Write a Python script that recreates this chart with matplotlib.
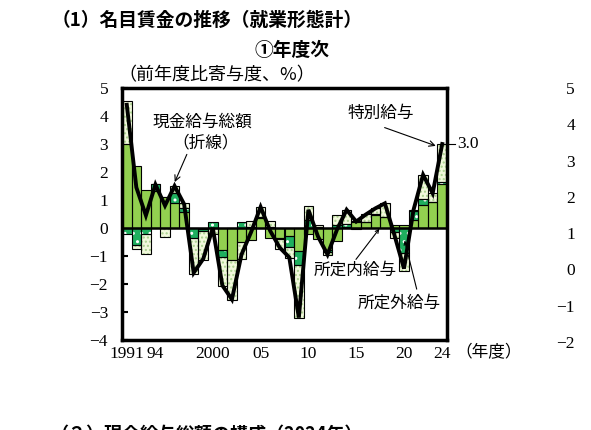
import numpy as np
import matplotlib.pyplot as plt

plt.rcParams['font.family'] = ['Noto Sans CJK JP', 'DejaVu Sans']
plt.rcParams['hatch.linewidth'] = 1.0

# fiscal years and contributions (前年度比寄与度, %)
years = np.arange(1991, 2025)
shoteinai = [3.0, 2.2, 1.36, 1.33, 1.1, 0.88, 0.58, 0.0, -0.05, 0.0,
             -0.78, -1.13, -0.5, -0.42, 0.35, -0.35, -0.37, -0.3, -0.83, -0.2,
             -0.4, -0.8, -0.45, 0.05, 0.2, 0.2, 0.45, 0.38, 0.1, 0.1,
             0.3, 0.82, 0.92, 1.56]
shoteigai = [-0.2, -0.6, -0.2, 0.23, 0.0, 0.36, 0.15, -0.35, -0.05, 0.2,
             -0.25, 0.0, 0.2, 0.05, 0.05, 0.05, -0.03, -0.37, -0.5, 0.3,
             0.05, -0.05, 0.1, 0.1, -0.02, 0.0, 0.05, 0.0, -0.15, -0.9,
             0.3, 0.22, 0.02, 0.1]
tokubetsu = [1.55, -0.15, -0.72, 0.0, -0.32, 0.25, 0.15, -1.3, -1.05, -0.2,
             -1.05, -1.45, -0.6, 0.2, 0.35, 0.2, -0.35, -0.4, -1.9, 0.5,
             0.05, -0.1, 0.35, 0.5, 0.05, 0.3, 0.2, 0.5, -0.2, -0.65,
             0.05, 0.86, 0.3, 1.34]
total = [4.4, 1.45, 0.45, 1.55, 0.8, 1.5, 0.85, -1.6, -1.1, 0.0,
         -2.05, -2.55, -0.95, -0.15, 0.75, -0.1, -0.7, -1.05, -3.2, 0.65,
         -0.3, -0.95, -0.05, 0.65, 0.23, 0.48, 0.7, 0.88, -0.25, -1.45,
         0.65, 1.9, 1.24, 3.0]

xtick_pos = [1991, 1994, 2000, 2005, 2010, 2015, 2020, 2024]
xtick_lab = ['1991', '94', '2000', '05', '10', '15', '20', '24']
right_ticks = [5, 4, 3, 2, 1, 0, -1, -2]

serif = 'Liberation Serif'

fig = plt.figure(figsize=(5.91, 4.30), dpi=100)
ax = fig.add_axes([122/591, 90/430, 325/591, 252/430])

styles = [
    (shoteinai, '#92D050', None, None),
    (shoteigai, '#1FAF5F', '..', 'white'),
    (tokubetsu, '#F1F8DC', '....', '#A9D18E'),
]

pos = np.zeros(len(years))
neg = np.zeros(len(years))
for vals, fc, hatch, hc in styles:
    v = np.array(vals)
    base = np.where(v >= 0, pos, neg)
    if hatch:
        ax.bar(years, v, width=1.0, bottom=base, color=fc, edgecolor=hc,
               hatch=hatch, linewidth=0, zorder=2)
    else:
        ax.bar(years, v, width=1.0, bottom=base, color=fc, linewidth=0, zorder=2)
    ax.bar(years, v, width=1.0, bottom=base, facecolor='none',
           edgecolor='black', linewidth=0.8, zorder=3)
    pos += np.clip(v, 0, None)
    neg += np.clip(v, None, 0)

ax.axhline(0, color='black', lw=1.8, zorder=4)
ax.plot(years, total, color='black', lw=2.8, zorder=5, solid_joinstyle='miter')

ax.set_xlim(1990.5, 2024.5)
ax.set_ylim(-4, 5)
for s in ax.spines.values():
    s.set_linewidth(2.5)

ax.set_yticks(range(-4, 6))
ax.tick_params(axis='y', direction='in', length=4, width=1.5, pad=10)
ax.set_xticks(xtick_pos)
ax.set_xticklabels(xtick_lab)
ax.tick_params(axis='x', length=0, pad=4)
for lab in ax.get_xticklabels() + ax.get_yticklabels():
    lab.set_fontfamily(serif)
    lab.set_fontsize(12.5)

# annotations
ax.text(1998.9, 3.79, '現金給与総額', ha='center', va='center', fontsize=12)
ax.text(1999.2, 3.04, '（折線）', ha='center', va='center', fontsize=12)
ax.annotate('', xy=(1995.9, 1.55), xytext=(1997.4, 2.72),
            arrowprops=dict(arrowstyle='->', lw=0.8, color='black'))

ax.text(2017.6, 4.1, '特別給与', ha='center', va='center', fontsize=12)
ax.annotate('', xy=(2023.6, 2.9), xytext=(2017.7, 3.62),
            arrowprops=dict(arrowstyle='->', lw=0.8, color='black'))

ax.plot([2024.2, 2025.3], [3.0, 3.0], color='black', lw=0.8, clip_on=False)
ax.text(2025.6, 3.0, '3.0', ha='left', va='center', fontsize=12.5,
        fontfamily=serif)

ax.text(2014.9, -1.49, '所定内給与', ha='center', va='center', fontsize=12)
ax.annotate('', xy=(2017.6, 0.05), xytext=(2014.8, -1.2),
            arrowprops=dict(arrowstyle='->', lw=0.8, color='black',
                            mutation_scale=6))
ax.text(2019.5, -2.67, '所定外給与', ha='center', va='center', fontsize=12)
ax.annotate('', xy=(2020.0, -0.35), xytext=(2021.4, -2.28),
            arrowprops=dict(arrowstyle='->', lw=0.8, color='black',
                            mutation_scale=6))

# titles
fig.text(52/591, 1 - 20/430, '（1）名目賃金の推移（就業形態計）',
         fontsize=13.5, fontweight='bold', va='center')
fig.text(292/591, 1 - 50/430, '①年度次', fontsize=13.5, fontweight='bold',
         ha='center', va='center')
fig.text(118/591, 1 - 75/430, '（前年度比寄与度、%）', fontsize=13,
         va='center')
fig.text(455/591, 1 - 353/430, '（年度）', fontsize=12, va='center')
fig.text(50/591, -4/430, '（２）現金給与総額の構成（2024年）', fontsize=13,
         fontweight='bold', va='center')

# next panel's axis, cut off at the right edge
ax2 = fig.add_axes([586/591, 88/430, 0.2, 254/430])
ax2.set_ylim(-2, 5)
ax2.set_yticks(right_ticks)
ax2.set_xticks([])
for s in ax2.spines.values():
    s.set_visible(False)
ax2.tick_params(axis='y', length=0, pad=8)
for lab in ax2.get_yticklabels():
    lab.set_fontfamily(serif)
    lab.set_fontsize(12.5)
ax2.patch.set_visible(False)

fig.savefig('out.png', dpi=100)
